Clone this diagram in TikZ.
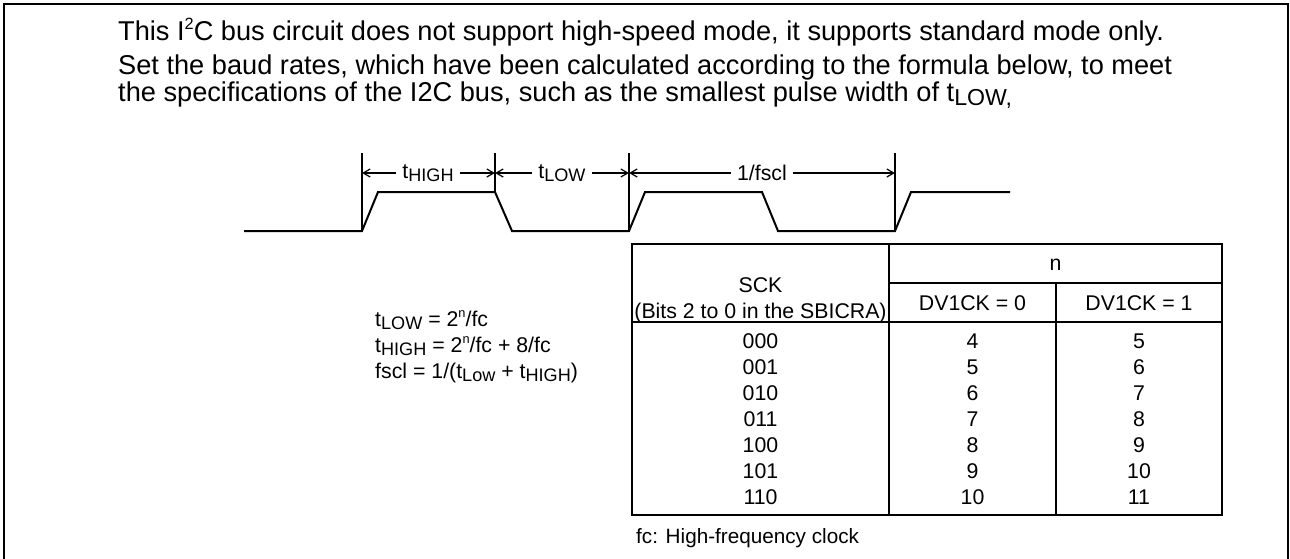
\documentclass[tikz,border=0pt]{standalone}
\usepackage{fontspec}
\setmainfont{Liberation Sans}
\usetikzlibrary{arrows.meta}
\newcommand\lowsub[1]{\raisebox{-0.32ex}{\fontsize{0.85em}{1em}\selectfont #1}}
\newcommand\upsup[1]{\raisebox{0.75ex}{\fontsize{0.6em}{1em}\selectfont #1}}
\begin{document}
\begin{tikzpicture}[x=1pt,y=-1pt,
  body/.style={font=\fontsize{27.2}{32}\selectfont, inner sep=0pt, anchor=base west},
  small/.style={font=\fontsize{21.3}{25}\selectfont, inner sep=0pt},
  wave/.style={line width=2pt, line join=miter},
  tickline/.style={line width=1.2pt},
  dim/.style={line width=1.2pt, -{Straight Barb[length=7pt,width=8pt]}},
  grid/.style={line width=2.4pt}]
\useasboundingbox (0,0) rectangle (1290,558);
% frame
\draw[line width=1.6pt] (4,560) -- (4,4) -- (1288,4) -- (1288,560);
% top text
\node[body] (l1) at (118,40) {This I\upsup{2}C bus circuit does not support high-speed mode, it supports standard mode only.};
\node[body] (l2) at (118,74) {Set the baud rates, which have been calculated according to the formula below, to meet};
\node[body] (l3) at (118,101) {the specifications of the I2C bus, such as the smallest pulse width of t\lowsub{LOW,}};
% waveform
\draw[wave] (244,231) -- (362,231) -- (378,192) -- (495,192) -- (512,231) -- (629,231) -- (645,192) -- (762,192) -- (778,231) -- (895,231) -- (911,192) -- (1010,192);
\coordinate (m1t) at (362,153); \coordinate (m1b) at (362,231);
\coordinate (m2t) at (495,153); \coordinate (m2b) at (495,192);
\coordinate (m3t) at (629,153); \coordinate (m3b) at (629,231);
\coordinate (m4t) at (895,153); \coordinate (m4b) at (895,231);
\draw[tickline] (m1t) -- (m1b);
\draw[tickline] (m2t) -- (m2b);
\draw[tickline] (m3t) -- (m3b);
\draw[tickline] (m4t) -- (m4b);
\coordinate (a1) at (362,173); \coordinate (a2) at (495,173);
\coordinate (a3) at (629,173); \coordinate (a4) at (895,173);
\node[small, inner xsep=6pt] (th) at (428,173) {t\lowsub{HIGH}};
\node[small, inner xsep=6pt] (tl) at (562,173) {t\lowsub{LOW}};
\node[small, inner xsep=6pt] (fs) at (762,173) {1/fscl};
\draw[dim] (th.west |- a1) -- (a1);
\draw[dim] (th.east |- a2) -- (a2);
\draw[dim] (tl.west |- a2) -- (a2);
\draw[dim] (tl.east |- a3) -- (a3);
\draw[dim] (fs.west |- a3) -- (a3);
\draw[dim] (fs.east |- a4) -- (a4);
% formulas
\node[small, anchor=base west] (f1) at (375,326) {t\lowsub{LOW} = 2\upsup{n}/fc};
\node[small, anchor=base west] (f2) at (375,352) {t\lowsub{HIGH} = 2\upsup{n}/fc + 8/fc};
\node[small, anchor=base west] (f3) at (375,378) {fscl = 1/(t\lowsub{Low} + t\lowsub{HIGH})};
% table
\draw[grid] (632,244) rectangle (1222,515);
\draw[grid] (889,244) -- (889,515);
\draw[grid] (632,322) -- (1222,322);
\draw[line width=1.6pt] (889,283) -- (1222,283);
\draw[line width=1.6pt] (1056,283) -- (1056,515);
\node[small, anchor=base] (hsck) at (760.5,292.5) {SCK};
\node[small, anchor=base] (hbits) at (760.5,318) {(Bits 2 to 0 in the SBICRA)};
\node[small, anchor=base] (hn) at (1055.5,270) {n};
\node[small, anchor=base] (hd0) at (972.5,310) {DV1CK = 0};
\node[small, anchor=base] (hd1) at (1139,310) {DV1CK = 1};
\foreach \s/\a/\b [count=\i from 0] in {000/4/5,001/5/6,010/6/7,011/7/8,100/8/9,101/9/10,110/10/11}{
  \node[small, anchor=base] (r\i c0) at (760.5,348.5+26*\i) {\s};
  \node[small, anchor=base] (r\i c1) at (972.5,348.5+26*\i) {\a};
  \node[small, anchor=base] (r\i c2) at (1139,348.5+26*\i) {\b};
}
\node[small, anchor=base west, font=\fontsize{20.7}{24}\selectfont] (note) at (636,543) {fc: High-frequency clock};
\end{tikzpicture}
\end{document}
